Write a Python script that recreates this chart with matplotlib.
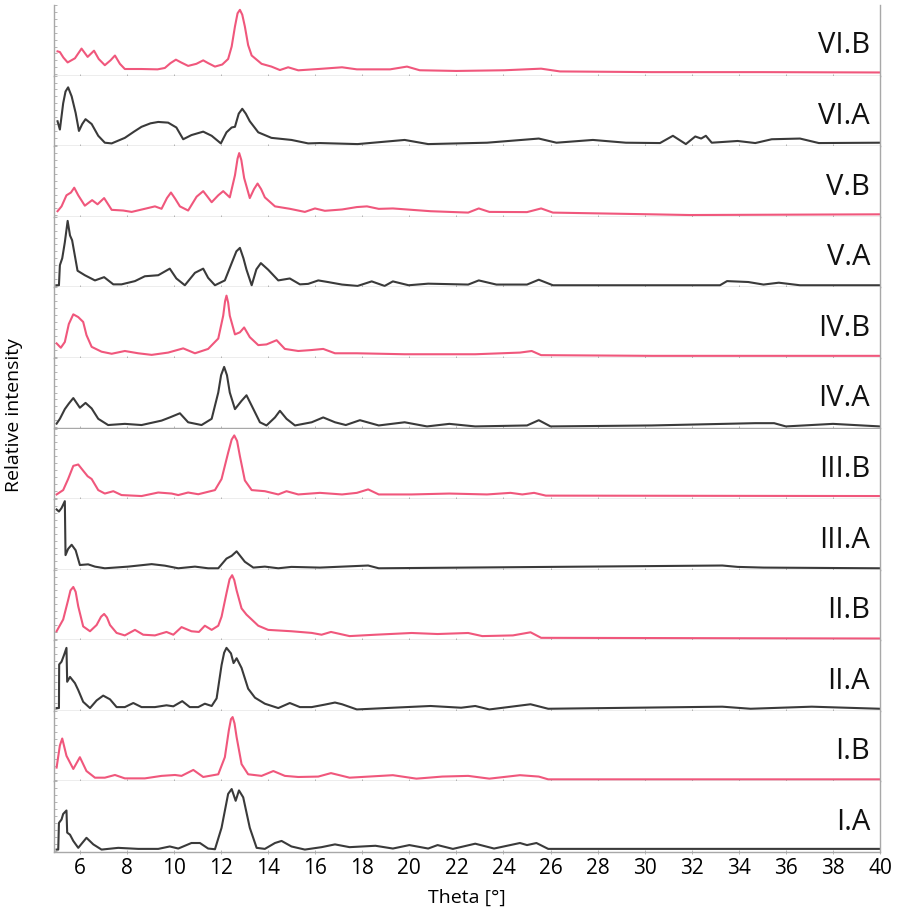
import numpy as np
import matplotlib.pyplot as plt

plt.rcParams['font.family'] = ['Open Sans', 'DejaVu Sans']

# panel names, top to bottom
labels = ["VI.B", "VI.A", "V.B", "V.A", "IV.B", "IV.A",
          "III.B", "III.A", "II.B", "II.A", "I.B", "I.A"]

x_ticks = list(range(6, 41, 2))

# (theta, relative intensity), 0..1 of panel height
VI_B = [(5.05, 0.33), (5.15, 0.32), (5.3, 0.24), (5.48, 0.17), (5.79, 0.23), (6.07, 0.37),
        (6.33, 0.25), (6.6, 0.34), (6.8, 0.22), (7.06, 0.13), (7.3, 0.2), (7.49, 0.27),
        (7.7, 0.15), (7.91, 0.075), (8.62, 0.075), (9.3, 0.07), (9.61, 0.09), (9.85, 0.16),
        (10.08, 0.21), (10.3, 0.17), (10.6, 0.12), (10.95, 0.15), (11.24, 0.2), (11.45, 0.16),
        (11.74, 0.11), (12.05, 0.14), (12.3, 0.22), (12.45, 0.4), (12.59, 0.69), (12.7, 0.88),
        (12.8, 0.93), (12.9, 0.86), (13.01, 0.69), (13.15, 0.42), (13.3, 0.27), (13.72, 0.15),
        (14.14, 0.11), (14.5, 0.06), (14.85, 0.1), (15.28, 0.056), (16.13, 0.075), (17.14, 0.1),
        (17.77, 0.07), (19.18, 0.07), (19.9, 0.11), (20.44, 0.057), (22.0, 0.047), (24.05, 0.057),
        (25.6, 0.08), (26.4, 0.04), (30.3, 0.03), (35.0, 0.03), (40.0, 0.025)]

VI_A = [(5.05, 0.34), (5.15, 0.22), (5.29, 0.6), (5.39, 0.77), (5.5, 0.83), (5.58, 0.76),
        (5.65, 0.7), (5.82, 0.46), (5.96, 0.2), (6.1, 0.3), (6.24, 0.37), (6.5, 0.3),
        (6.78, 0.13), (7.06, 0.03), (7.35, 0.02), (7.91, 0.1), (8.3, 0.19), (8.62, 0.26),
        (9.0, 0.31), (9.33, 0.33), (9.75, 0.32), (10.1, 0.25), (10.39, 0.08), (10.74, 0.14),
        (11.24, 0.19), (11.6, 0.13), (11.99, 0.02), (12.23, 0.18), (12.45, 0.25), (12.59, 0.26),
        (12.75, 0.45), (12.9, 0.52), (13.05, 0.45), (13.22, 0.34), (13.58, 0.18), (14.14, 0.1),
        (14.99, 0.07), (15.7, 0.02), (16.2, 0.025), (17.8, 0.01), (19.8, 0.07), (20.8, 0.01),
        (23.3, 0.03), (25.5, 0.09), (26.25, 0.03), (27.8, 0.07), (29.2, 0.03), (30.65, 0.025),
        (31.2, 0.13), (31.75, 0.01), (32.15, 0.12), (32.4, 0.09), (32.6, 0.13), (32.85, 0.03),
        (33.95, 0.055), (34.7, 0.025), (35.4, 0.08), (36.6, 0.09), (37.4, 0.025), (40.0, 0.03)]

V_B = [(5.05, 0.06), (5.22, 0.13), (5.43, 0.29), (5.62, 0.33), (5.76, 0.4), (5.93, 0.29),
       (6.21, 0.14), (6.52, 0.22), (6.75, 0.16), (7.03, 0.25), (7.35, 0.08), (7.84, 0.07),
       (8.2, 0.05), (8.76, 0.095), (9.19, 0.13), (9.47, 0.095), (9.7, 0.25), (9.87, 0.33),
       (10.05, 0.24), (10.25, 0.13), (10.6, 0.07), (10.96, 0.27), (11.24, 0.35), (11.4, 0.28),
       (11.6, 0.19), (11.88, 0.29), (12.09, 0.35), (12.37, 0.26), (12.59, 0.58), (12.7, 0.82),
       (12.77, 0.9), (12.86, 0.8), (12.98, 0.54), (13.22, 0.25), (13.4, 0.38), (13.55, 0.46),
       (13.7, 0.38), (13.86, 0.26), (14.29, 0.13), (14.92, 0.095), (15.56, 0.05), (15.99, 0.1),
       (16.41, 0.066), (17.14, 0.085), (17.77, 0.12), (18.2, 0.13), (18.7, 0.094), (19.3, 0.1),
       (20.9, 0.06), (22.5, 0.04), (22.95, 0.1), (23.4, 0.05), (25.0, 0.047), (25.6, 0.1),
       (26.1, 0.04), (30.3, 0.015), (31.9, 0.005), (40.0, 0.015)]

V_A = [(5.0, 0.01), (5.11, 0.01), (5.15, 0.3), (5.25, 0.4), (5.36, 0.63), (5.48, 0.94),
       (5.58, 0.73), (5.67, 0.66), (5.9, 0.22), (6.21, 0.155), (6.64, 0.08), (7.03, 0.127),
       (7.42, 0.023), (7.77, 0.023), (8.34, 0.07), (8.76, 0.14), (9.33, 0.155), (9.82, 0.25),
       (10.1, 0.108), (10.46, 0.01), (10.89, 0.19), (11.24, 0.25), (11.45, 0.117), (11.74, 0.01),
       (12.16, 0.08), (12.45, 0.33), (12.65, 0.5), (12.8, 0.55), (12.95, 0.4), (13.08, 0.235),
       (13.3, 0.01), (13.5, 0.24), (13.69, 0.33), (14.0, 0.235), (14.43, 0.08), (14.92, 0.108),
       (15.35, 0.023), (15.7, 0.03), (16.13, 0.08), (16.55, 0.056), (17.14, 0.02), (17.8, 0.0),
       (18.4, 0.066), (18.95, 0.0), (19.3, 0.066), (19.97, 0.01), (20.8, 0.033), (22.5, 0.02),
       (22.95, 0.08), (23.7, 0.02), (25.0, 0.02), (25.5, 0.09), (26.1, 0.01), (33.2, 0.01),
       (33.5, 0.07), (34.4, 0.057), (35.05, 0.02), (35.7, 0.047), (36.6, 0.01), (40.0, 0.01)]

IV_B = [(5.01, 0.19), (5.19, 0.127), (5.36, 0.21), (5.53, 0.47), (5.72, 0.61), (5.93, 0.57),
        (6.14, 0.5), (6.28, 0.31), (6.5, 0.14), (6.92, 0.07), (7.35, 0.04), (7.91, 0.08),
        (8.48, 0.047), (9.05, 0.024), (9.75, 0.057), (10.39, 0.118), (10.89, 0.047), (11.45, 0.11),
        (11.88, 0.26), (12.09, 0.59), (12.17, 0.8), (12.23, 0.88), (12.3, 0.78), (12.37, 0.59),
        (12.59, 0.32), (12.8, 0.35), (12.98, 0.42), (13.22, 0.28), (13.58, 0.165), (13.93, 0.175),
        (14.36, 0.236), (14.71, 0.11), (15.28, 0.08), (15.85, 0.094), (16.34, 0.11), (16.84, 0.047),
        (17.77, 0.047), (19.8, 0.033), (22.8, 0.033), (24.7, 0.057), (25.2, 0.08), (25.6, 0.02),
        (30.3, 0.01), (40.0, 0.01)]

IV_A = [(5.01, 0.05), (5.15, 0.12), (5.36, 0.26), (5.53, 0.34), (5.72, 0.42), (5.86, 0.35),
        (6.0, 0.28), (6.24, 0.35), (6.5, 0.27), (6.78, 0.12), (7.2, 0.03), (7.91, 0.047),
        (8.62, 0.03), (9.47, 0.094), (9.82, 0.14), (10.25, 0.2), (10.6, 0.07), (11.17, 0.03),
        (11.6, 0.12), (11.88, 0.5), (12.0, 0.75), (12.13, 0.87), (12.25, 0.75), (12.37, 0.5),
        (12.59, 0.26), (12.87, 0.38), (13.08, 0.46), (13.3, 0.31), (13.65, 0.07), (13.93, 0.024),
        (14.29, 0.14), (14.5, 0.236), (14.78, 0.12), (15.14, 0.024), (15.85, 0.07), (16.34, 0.14),
        (16.84, 0.07), (17.3, 0.03), (17.9, 0.1), (18.7, 0.024), (19.8, 0.07), (20.75, 0.01),
        (21.7, 0.047), (22.8, 0.01), (25.0, 0.024), (25.5, 0.1), (26.0, 0.01), (30.3, 0.024),
        (34.7, 0.057), (35.5, 0.057), (36.0, 0.01), (38.0, 0.047), (40.0, 0.01)]

III_B = [(5.01, 0.047), (5.29, 0.11), (5.5, 0.27), (5.72, 0.46), (5.93, 0.48), (6.14, 0.39),
         (6.33, 0.31), (6.5, 0.27), (6.78, 0.11), (7.06, 0.06), (7.42, 0.094), (7.77, 0.038),
         (8.62, 0.024), (9.33, 0.075), (9.9, 0.06), (10.18, 0.038), (10.6, 0.075), (11.03, 0.05),
         (11.74, 0.11), (12.02, 0.27), (12.3, 0.65), (12.45, 0.84), (12.56, 0.9), (12.68, 0.82),
         (12.8, 0.6), (13.01, 0.25), (13.3, 0.11), (13.86, 0.094), (14.43, 0.047), (14.78, 0.094),
         (15.28, 0.047), (16.2, 0.07), (17.14, 0.047), (17.77, 0.07), (18.25, 0.12), (18.7, 0.047),
         (20.1, 0.047), (21.7, 0.06), (23.3, 0.047), (24.3, 0.07), (24.8, 0.047), (25.3, 0.07),
         (25.8, 0.03), (40.0, 0.024)]

III_A = [(5.01, 0.85), (5.11, 0.82), (5.22, 0.87), (5.36, 0.97), (5.39, 0.19), (5.5, 0.28),
         (5.65, 0.34), (5.82, 0.26), (6.0, 0.047), (6.35, 0.057), (6.64, 0.024), (7.06, 0.0),
         (8.05, 0.024), (9.05, 0.06), (9.61, 0.038), (10.18, 0.0), (10.89, 0.024), (11.45, 0.0),
         (11.88, 0.0), (12.23, 0.14), (12.45, 0.18), (12.66, 0.245), (13.01, 0.094), (13.37, 0.01),
         (13.86, 0.024), (14.43, 0.0), (14.99, 0.02), (16.2, 0.01), (18.25, 0.04), (18.7, 0.0),
         (33.3, 0.04), (33.95, 0.02), (35.05, 0.01), (40.0, 0.0)]

II_B = [(5.01, 0.11), (5.29, 0.28), (5.5, 0.56), (5.6, 0.7), (5.72, 0.75), (5.82, 0.68),
        (5.93, 0.47), (6.14, 0.18), (6.43, 0.11), (6.71, 0.2), (6.9, 0.32), (7.03, 0.36),
        (7.15, 0.31), (7.28, 0.2), (7.56, 0.086), (7.91, 0.05), (8.34, 0.13), (8.69, 0.06),
        (9.19, 0.05), (9.68, 0.1), (9.97, 0.06), (10.32, 0.17), (10.74, 0.11), (11.06, 0.1),
        (11.31, 0.19), (11.6, 0.13), (11.88, 0.19), (12.02, 0.32), (12.23, 0.66), (12.36, 0.86),
        (12.47, 0.92), (12.56, 0.85), (12.66, 0.7), (12.87, 0.44), (13.08, 0.35), (13.3, 0.28),
        (13.58, 0.19), (14.0, 0.13), (14.99, 0.11), (15.85, 0.086), (16.27, 0.06), (16.67, 0.1),
        (17.46, 0.04), (18.56, 0.06), (20.1, 0.085), (21.2, 0.07), (22.5, 0.085), (23.1, 0.04),
        (24.4, 0.05), (25.15, 0.095), (25.6, 0.015), (40.0, 0.005)]

II_A = [(5.01, 0.02), (5.11, 0.02), (5.12, 0.65), (5.22, 0.69), (5.33, 0.79), (5.43, 0.89),
        (5.46, 0.4), (5.58, 0.47), (5.79, 0.38), (5.93, 0.28), (6.14, 0.11), (6.43, 0.02),
        (6.71, 0.13), (6.99, 0.2), (7.28, 0.146), (7.56, 0.034), (7.91, 0.034), (8.27, 0.093),
        (8.62, 0.034), (9.19, 0.034), (9.68, 0.06), (9.97, 0.045), (10.35, 0.12), (10.67, 0.034),
        (11.03, 0.034), (11.31, 0.083), (11.6, 0.05), (11.81, 0.16), (12.02, 0.64), (12.13, 0.82),
        (12.23, 0.89), (12.42, 0.81), (12.53, 0.67), (12.66, 0.74), (12.87, 0.6), (13.15, 0.3),
        (13.44, 0.17), (13.86, 0.083), (14.43, 0.02), (14.92, 0.093), (15.35, 0.034), (15.85, 0.034),
        (16.41, 0.07), (16.84, 0.1), (17.14, 0.075), (17.77, 0.0), (19.3, 0.025), (20.9, 0.05),
        (22.2, 0.025), (22.8, 0.05), (23.4, 0.0), (25.15, 0.075), (25.9, 0.01), (33.3, 0.04),
        (34.5, 0.01), (37.1, 0.04), (40.0, 0.01)]

I_B = [(5.01, 0.18), (5.15, 0.5), (5.25, 0.6), (5.43, 0.35), (5.72, 0.16), (6.0, 0.33),
       (6.28, 0.13), (6.64, 0.034), (7.06, 0.034), (7.49, 0.073), (7.91, 0.024), (8.76, 0.024),
       (9.47, 0.06), (10.04, 0.073), (10.32, 0.06), (10.82, 0.146), (11.24, 0.044), (11.88, 0.083),
       (12.16, 0.33), (12.33, 0.72), (12.42, 0.88), (12.49, 0.91), (12.57, 0.82), (12.66, 0.62),
       (12.87, 0.23), (13.15, 0.083), (13.72, 0.06), (14.22, 0.13), (14.71, 0.06), (15.28, 0.044),
       (16.13, 0.05), (16.67, 0.1), (17.46, 0.034), (19.3, 0.07), (20.3, 0.02), (21.4, 0.05),
       (22.5, 0.06), (23.4, 0.02), (24.7, 0.07), (25.5, 0.05), (25.9, 0.01), (40.0, 0.01)]

I_A = [(5.01, 0.015), (5.08, 0.015), (5.11, 0.4), (5.22, 0.45), (5.29, 0.53), (5.43, 0.58),
       (5.46, 0.26), (5.58, 0.23), (5.72, 0.14), (5.93, 0.04), (6.28, 0.185), (6.57, 0.09),
       (6.92, 0.015), (7.63, 0.04), (8.48, 0.025), (9.33, 0.025), (9.82, 0.06), (10.18, 0.03),
       (10.74, 0.11), (11.1, 0.11), (11.45, 0.03), (11.74, 0.02), (12.02, 0.33), (12.3, 0.82),
       (12.45, 0.89), (12.62, 0.72), (12.76, 0.87), (12.94, 0.77), (13.22, 0.33), (13.51, 0.04),
       (13.86, 0.025), (14.29, 0.11), (14.57, 0.14), (14.99, 0.06), (15.56, 0.015), (16.27, 0.05),
       (16.84, 0.09), (17.46, 0.05), (18.56, 0.07), (19.3, 0.03), (20.0, 0.08), (20.8, 0.03),
       (21.2, 0.08), (21.85, 0.025), (22.8, 0.1), (23.6, 0.03), (24.7, 0.11), (25.0, 0.08),
       (25.4, 0.11), (25.9, 0.025), (40.0, 0.025)]

series = [VI_B, VI_A, V_B, V_A, IV_B, IV_A, III_B, III_A, II_B, II_A, I_B, I_A]

pink = '#f0577c'
dark = '#3a3a3a'
frame = '#a8a8a8'

W, H = 897, 913
fig = plt.figure(figsize=(W / 100, H / 100), dpi=100)

# plot area in pixels
left, right, top, bottom = 54, 880, 5, 852
n = len(labels)
ph = (bottom - top) / n

for i, (name, data) in enumerate(zip(labels, series)):
    y_low = top + (i + 1) * ph   # lower edge of this panel, px from top
    ax = fig.add_axes([left / W, 1 - y_low / H, (right - left) / W, ph / H])
    th, val = zip(*data)
    color = pink if name.endswith('B') else dark
    ax.plot(th, val, color=color, lw=1.5)
    ax.set_xlim(4.9, 40)
    ax.set_ylim(-0.02, 1.0)
    ax.spines['top'].set_visible(False)
    for s in ['left', 'right', 'bottom']:
        ax.spines[s].set_color(frame)
        ax.spines[s].set_linewidth(1.0)
    ax.set_xticks(x_ticks)
    ax.set_yticks(np.linspace(0, 1, 11))
    ax.set_yticklabels([])
    ax.tick_params(axis='y', length=2, width=0.6, color=frame, direction='in')
    ax.tick_params(axis='x', length=3, width=0.6, color=frame, direction='inout')
    if i < n - 1:
        ax.set_xticklabels([])
    else:
        ax.tick_params(axis='x', labelsize=15, pad=3)
        ax.set_xlabel('Theta [°]', fontsize=14, labelpad=7)
    ax.text(0.988, 0.42, name, transform=ax.transAxes, ha='right', va='center',
            fontsize=21, color='#111111')

fig.text(14 / W, 1 - 415 / H, 'Relative intensity', rotation=90, ha='center',
         va='center', fontsize=14)

fig.savefig('out.png', dpi=100)
